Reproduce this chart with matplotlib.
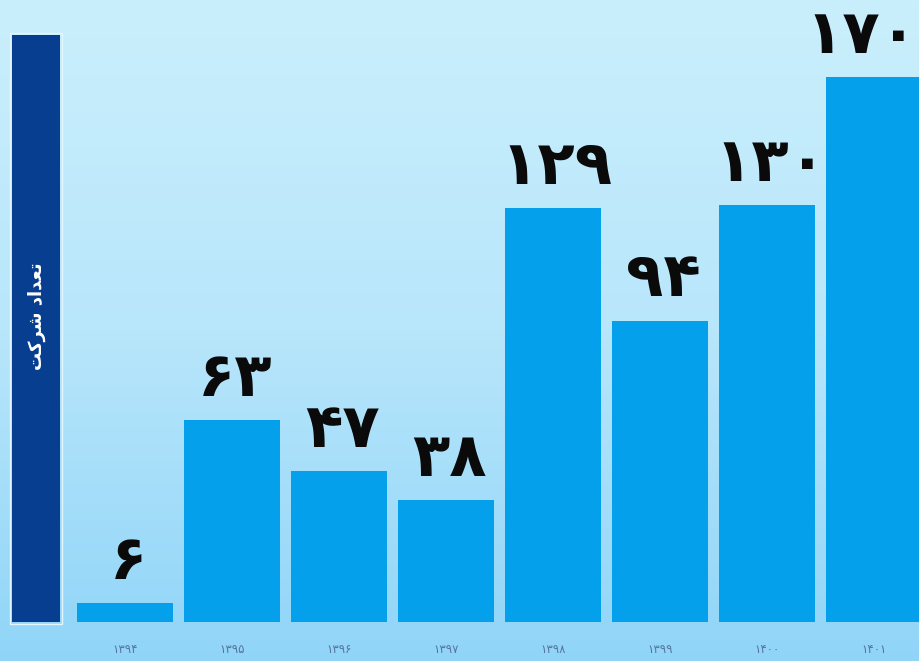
import matplotlib
matplotlib.use("Agg")
import matplotlib.pyplot as plt
import numpy as np
from matplotlib.patches import Rectangle
from matplotlib.colors import LinearSegmentedColormap

years = ["۱۳۹۴", "۱۳۹۵", "۱۳۹۶", "۱۳۹۷", "۱۳۹۸", "۱۳۹۹", "۱۴۰۰", "۱۴۰۱"]
values = [6, 63, 47, 38, 129, 94, 130, 170]
value_labels = ["۶", "۶۳", "۴۷", "۳۸", "۱۲۹", "۹۴", "۱۳۰", "۱۷۰"]
# "تعداد شرکت" in visual order with presentation forms
ylabel_text = "\uFE96\uFB90\uFEAE\uFEB7 \uFEA9\uFE8D\uFEAA\uFECC\uFE97"

W, H = 919, 661
fig = plt.figure(figsize=(W / 100, H / 100), dpi=100)

# background gradient
bg = fig.add_axes([0, 0, 1, 1])
grad = np.linspace(0, 1, 256).reshape(-1, 1)
cmap = LinearSegmentedColormap.from_list("bg", ["#caeffc", "#b8e6fb", "#90d5f8"])
bg.imshow(grad, aspect="auto", cmap=cmap, extent=[0, 1, 0, 1], origin="upper")
bg.set_axis_off()

ax = fig.add_axes([0, 0, 1, 1])
ax.patch.set_alpha(0)
x = np.arange(len(values))
ax.bar(x, values, width=0.897, color="#04a0ec", zorder=2)
ax.set_xlim(-125 / 107, 794 / 107)
ax.set_ylim(-39 / 3.206, 622 / 3.206)
ax.set_axis_off()

n = len(values)
for xi, v, lab in zip(x, values, value_labels):
    if xi == n - 1:
        ax.text(7.41, v + 3.5, lab, ha="right", va="bottom", fontsize=44,
                fontweight="bold", color="#0a0a0a", family="DejaVu Sans", zorder=3)
    else:
        ax.text(xi + 0.03, v + 3.5, lab, ha="center", va="bottom", fontsize=44,
                fontweight="bold", color="#0a0a0a", family="DejaVu Sans", zorder=3)

for xi, yl in zip(x, years):
    ax.text(xi, -8.7, yl, ha="center", va="center", fontsize=8.5,
            color="#55769c", family="DejaVu Sans")

# dark blue y-label box
fig.patches.append(Rectangle((10 / W, 1 - 624 / H), 52 / W, 591 / H,
                             transform=fig.transFigure, facecolor="none",
                             edgecolor="#e4f6fd", linewidth=1.0, zorder=5))
fig.patches.append(Rectangle((12 / W, 1 - 622 / H), 48 / W, 587 / H,
                             transform=fig.transFigure, facecolor="#073e90",
                             edgecolor="none", zorder=6))
fig.text(37 / W, 1 - 316 / H, ylabel_text, rotation=90, ha="center", va="center",
         color="white", fontsize=13, fontweight="bold", family="DejaVu Sans", zorder=7)

fig.savefig("out.png", dpi=100)
